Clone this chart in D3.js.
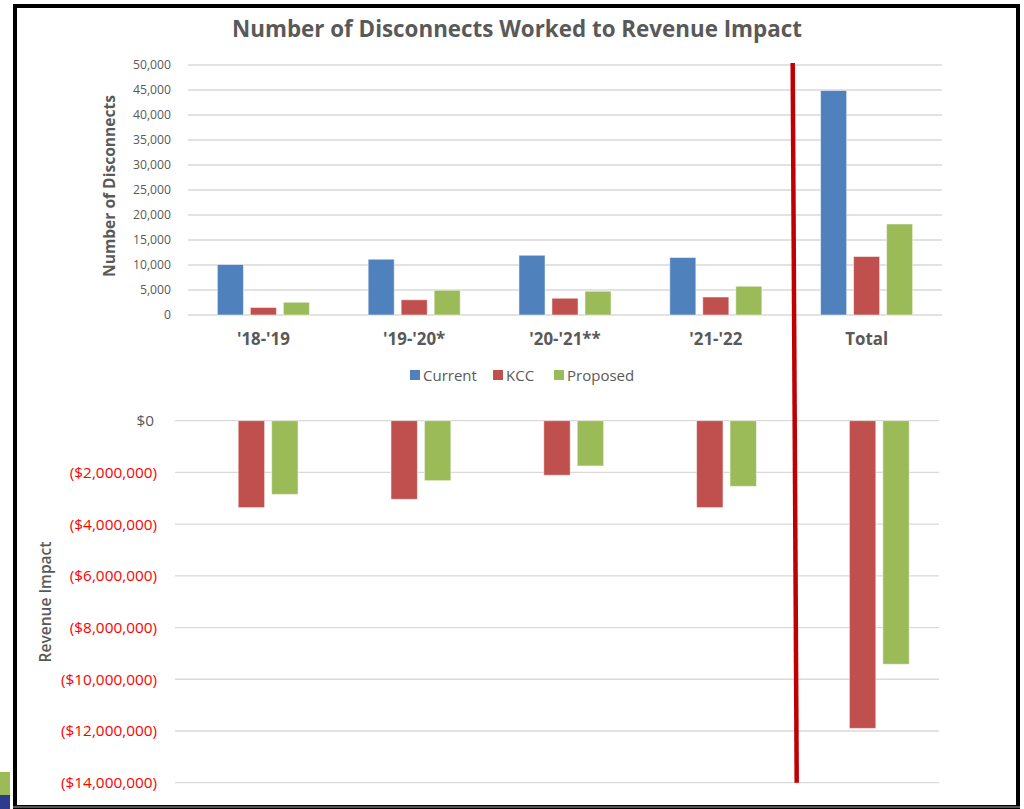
<!DOCTYPE html>
<html>
<head>
<meta charset="utf-8">
<script src="https://cdn.jsdelivr.net/npm/d3@7"></script>
<style>
  html, body { margin: 0; padding: 0; background: #fff; }
  svg { display: block; }
  text { font-family: "Open Sans", sans-serif; }
</style>
</head>
<body>
<svg id="chart" width="1024" height="809"></svg>
<script>
// ---------- data ----------
const categories = ["'18-'19", "'19-'20*", "'20-'21**", "'21-'22", "Total"];
const seriesNames = ["Current", "KCC", "Proposed"];
const seriesColors = ["#4f81bd", "#c0504d", "#9bbb59"];
const currentCounts  = [10100, 11150, 11950, 11500, 44900];
const kccCounts      = [1500, 3050, 3350, 3600, 11700];
const proposedCounts = [2550, 4950, 4750, 5750, 18200];
const kccRevenue      = [-3360000, -3040000, -2110000, -3360000, -11900000];
const proposedRevenue = [-2850000, -2320000, -1750000, -2540000, -9420000];
const countTicks   = [0, 5000, 10000, 15000, 20000, 25000, 30000, 35000, 40000, 45000, 50000];
const revenueTicks = [0, -2000000, -4000000, -6000000, -8000000, -10000000, -12000000, -14000000];

const svg = d3.select("#chart");
const grey = "#595959";
const gridColor = "#d9d9d9";

// scale a text selection's font size so that a reference node has the target width
function fitSize(sel, refNode, target) {
  const fs = parseFloat(d3.select(refNode).attr("font-size"));
  const w = refNode.getComputedTextLength();
  const nfs = fs * target / w;
  sel.attr("font-size", nfs.toFixed(2));
  return nfs;
}

// frame
svg.append("rect").attr("x", 15).attr("y", 6).attr("width", 1003).attr("height", 801)
  .attr("fill", "none").attr("stroke", "#000").attr("stroke-width", 4);
svg.append("line").attr("x1", 13).attr("x2", 1020).attr("y1", 807).attr("y2", 807)
  .attr("stroke", "#555").attr("stroke-width", 2);

// corner artefacts
svg.append("rect").attr("x", 0).attr("y", 772).attr("width", 10).attr("height", 23).attr("fill", "#9bbb59");
svg.append("rect").attr("x", 0).attr("y", 795).attr("width", 10).attr("height", 14).attr("fill", "#2e3a8c");

// title
const title = svg.append("text").attr("x", 517).attr("y", 37).attr("text-anchor", "middle")
  .attr("font-size", 20).attr("font-weight", "bold").attr("fill", grey)
  .text("Number of Disconnects Worked to Revenue Impact");
fitSize(title, title.node(), 570);

// ---------- top chart ----------
const xTop = d3.scaleBand().domain(categories).range([188, 942]).padding(0);
const xTopInner = d3.scaleBand().domain(seriesNames).range([0, xTop.bandwidth()])
  .paddingInner(0.21).paddingOuter(0.89);
const yTop = d3.scaleLinear().domain([0, 50000]).range([315, 65]);

const gTop = svg.append("g");
gTop.append("g").selectAll("line").data(countTicks).join("line")
  .attr("x1", 188).attr("x2", 942)
  .attr("y1", d => yTop(d)).attr("y2", d => yTop(d))
  .attr("stroke", gridColor).attr("stroke-width", 1.3);

const yAxisTop = d3.axisLeft(yTop).tickValues(countTicks).tickFormat(d3.format(",")).tickSize(0).tickPadding(0);
const ya = gTop.append("g").attr("transform", "translate(171,0)").call(yAxisTop);
ya.select(".domain").remove();
const yaText = ya.selectAll("text").attr("fill", grey).attr("font-size", 12).attr("font-family", "'Open Sans', sans-serif");
fitSize(yaText, yaText.filter(d => d === 50000).node(), 38);

const countSeries = [currentCounts, kccCounts, proposedCounts];
countSeries.forEach((vals, si) => {
  gTop.append("g").selectAll("rect").data(vals).join("rect")
    .attr("x", (d, i) => xTop(categories[i]) + xTopInner(seriesNames[si]))
    .attr("width", xTopInner.bandwidth())
    .attr("y", d => yTop(d))
    .attr("height", d => yTop(0) - yTop(d))
    .attr("fill", seriesColors[si])
    .attr("stroke", "#ffffff").attr("stroke-opacity", 0.5).attr("stroke-width", 1);
});

const xAxisTop = d3.axisBottom(xTop).tickSize(0).tickPadding(0);
const xa = gTop.append("g").attr("transform", "translate(0,333)").call(xAxisTop);
xa.select(".domain").remove();
const xaText = xa.selectAll("text").attr("fill", grey).attr("font-size", 14).attr("font-weight", "bold")
  .attr("font-family", "'Open Sans', sans-serif");
fitSize(xaText, xaText.filter(d => d === "'18-'19").node(), 53);

const yTitle = svg.append("text").attr("transform", "translate(115,186) rotate(-90)")
  .attr("text-anchor", "middle").attr("font-size", 14).attr("font-weight", "bold")
  .attr("fill", grey).text("Number of Disconnects");
fitSize(yTitle, yTitle.node(), 182);

// legend
const legendX = [410, 493, 554];
const lg = svg.append("g");
const legendTexts = [];
seriesNames.forEach((name, i) => {
  lg.append("rect").attr("x", legendX[i]).attr("y", 370).attr("width", 10).attr("height", 10)
    .attr("fill", seriesColors[i]);
  legendTexts.push(lg.append("text").attr("x", legendX[i] + 13).attr("y", 380.5).attr("font-size", 14)
    .attr("fill", grey).text(name).node());
});
fitSize(d3.selectAll(legendTexts), legendTexts[0], 54);

// ---------- bottom chart ----------
const xBot = d3.scaleBand().domain(categories).range([175, 939]).padding(0);
const xBotInner = d3.scaleBand().domain(seriesNames).range([0, xBot.bandwidth()])
  .paddingInner(0.21).paddingOuter(0.89);
const yBot = d3.scaleLinear().domain([-14000000, 0]).range([782.7, 420.7]);

const gBot = svg.append("g");
gBot.append("g").selectAll("line").data(revenueTicks).join("line")
  .attr("x1", 175).attr("x2", 939)
  .attr("y1", d => yBot(d)).attr("y2", d => yBot(d))
  .attr("stroke", gridColor).attr("stroke-width", 1.3);

const fmt = d3.format(",");
const yAxisBot = d3.axisLeft(yBot).tickValues(revenueTicks)
  .tickFormat(d => d === 0 ? "$0" : "($" + fmt(-d) + ")").tickSize(0).tickPadding(0);
const yb = gBot.append("g").attr("transform", "translate(157,0)").call(yAxisBot);
yb.select(".domain").remove();
const ybText = yb.selectAll("text").attr("font-size", 15).attr("font-family", "'Open Sans', sans-serif")
  .attr("fill", d => d === 0 ? grey : "#ff0000")
  .attr("dx", d => d === 0 ? -3 : 0);
fitSize(ybText, ybText.filter(d => d === -14000000).node(), 96);

const revSeries = [[kccRevenue, "KCC", 1], [proposedRevenue, "Proposed", 2]];
revSeries.forEach(([vals, name, ci]) => {
  gBot.append("g").selectAll("rect").data(vals).join("rect")
    .attr("x", (d, i) => xBot(categories[i]) + xBotInner(name))
    .attr("width", xBotInner.bandwidth())
    .attr("y", yBot(0))
    .attr("height", d => yBot(d) - yBot(0))
    .attr("fill", seriesColors[ci])
    .attr("stroke", "#ffffff").attr("stroke-opacity", 0.5).attr("stroke-width", 1);
});

const rTitle = svg.append("text").attr("transform", "translate(51,602) rotate(-90)")
  .attr("text-anchor", "middle").attr("font-size", 14).attr("font-weight", "600")
  .attr("fill", grey).text("Revenue Impact");
fitSize(rTitle, rTitle.node(), 121);

// ---------- red separator ----------
const sepTopX = xTop(categories[4]) + 1.5;
svg.append("line")
  .attr("x1", sepTopX).attr("y1", yTop(50000) - 2)
  .attr("x2", sepTopX + 4).attr("y2", yBot(-14000000))
  .attr("stroke", "#c00000").attr("stroke-width", 4.5);
</script>
</body>
</html>
